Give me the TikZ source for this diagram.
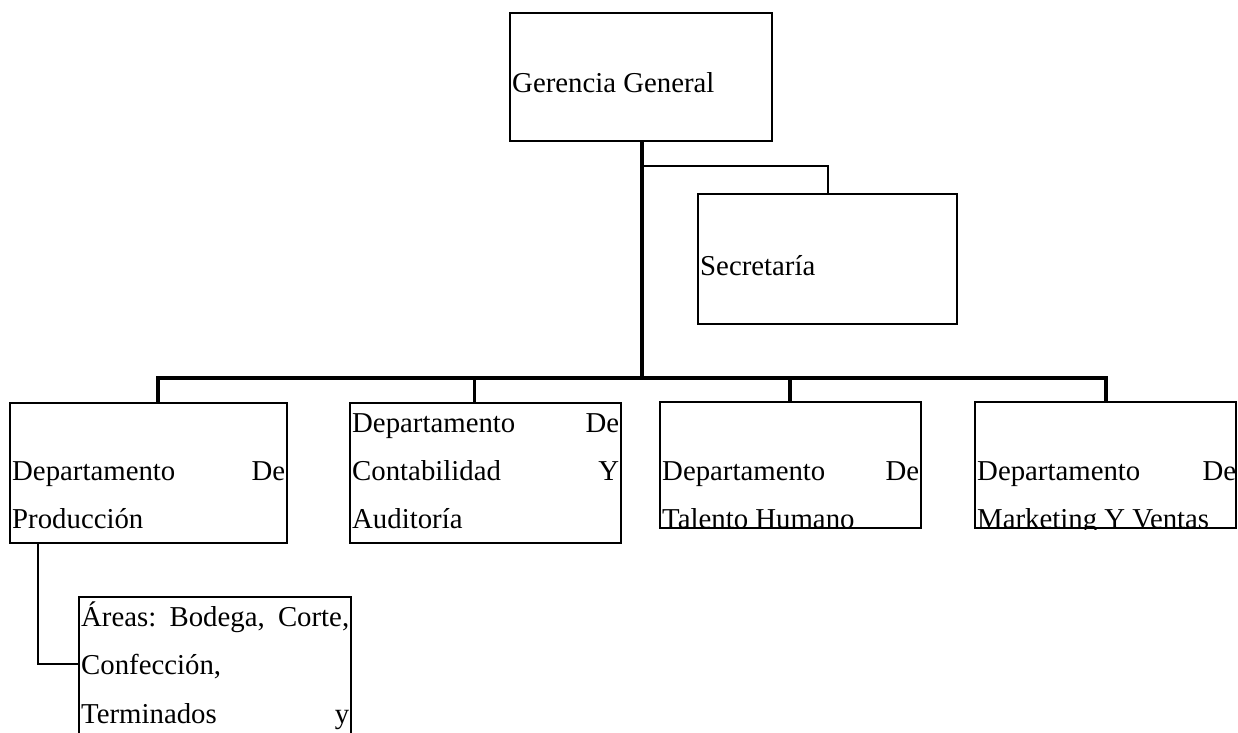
\documentclass[tikz,border=0pt]{standalone}
\usepackage{fontspec}
\setmainfont{Liberation Serif}
\usetikzlibrary{calc}
\tikzset{
  unitbox/.style={draw=black, line width=2pt, rectangle, inner sep=0pt, outer sep=0pt, anchor=north west},
  boxtext/.style={anchor=base west, inner sep=0pt, font=\fontsize{28.8}{34}\selectfont},
  trunkline/.style={line width=4pt},
  branchline/.style={line width=2pt},
}
% a justified line of fixed width
\newcommand{\jline}[2]{\hbox to #1pt{#2}}

\begin{document}
\begin{tikzpicture}[x=1pt,y=-1pt]
\useasboundingbox (0,0) rectangle (1238,732);
\fill[white] (0,0) rectangle (1238,732);
\clip (0,0) rectangle (1238,732);

% units
\node[unitbox, minimum width=262pt, minimum height=128pt] (g) at (510,13) {};
\node[unitbox, minimum width=259pt, minimum height=130pt] (s) at (698,194) {};
\node[unitbox, minimum width=277pt, minimum height=140pt] (p) at (10,403) {};
\node[unitbox, minimum width=271pt, minimum height=140pt] (c) at (350,403) {};
\node[unitbox, minimum width=261pt, minimum height=126pt] (t) at (660,402) {};
\node[unitbox, minimum width=261pt, minimum height=126pt] (m) at (975,402) {};
\node[unitbox, minimum width=272pt, minimum height=160pt] (a) at (79,597) {};

% connectors
\coordinate (hub) at (642,378);
\coordinate (sj) at (642,166);
\coordinate (bp) at (158,378);
\coordinate (dc) at (474,378);
\coordinate (dt) at (790,378);
\coordinate (bm) at (1106,378);
\draw[trunkline] (g.south -| hub) -- (hub);
\draw[branchline] (sj) -| (s.north);
\draw[trunkline] (bp |- p.north) -- (bp) -- (bm) -- (bm |- m.north);
\draw[line width=3pt] (dc) -- (dc |- c.north);
\draw[trunkline] (dt) -- (dt |- t.north);
\draw[branchline] ($(p.south west)+(28,0)$) |- ($(a.north west)+(0,67)$);

% texts
\node[boxtext] (gt) at (512,92) {Gerencia General};
\node[boxtext] (st) at (700,275) {Secretaría};

\node[boxtext] (p1) at (12,480) {\jline{273}{Departamento\hfill De}};
\node[boxtext] (p2) at (12,528) {Producción};

\node[boxtext] (c1) at (352,432) {\jline{267}{Departamento\hfill De}};
\node[boxtext] (c2) at (352,480) {\jline{267}{Contabilidad\hfill Y}};
\node[boxtext] (c3) at (352,528) {Auditoría};

\node[boxtext] (t1) at (662,480) {\jline{257}{Departamento\hfill De}};
\begin{scope}
  \clip (t.north west) rectangle ($(t.south east)+(0,1)$);
  \node[boxtext] (t2) at (662,528) {Talento Humano};
\end{scope}

\node[boxtext] (m1) at (977,480) {\jline{259}{Departamento\hfill De}};
\begin{scope}
  \clip (m.north west) rectangle ($(m.south east)+(0,1)$);
  \node[boxtext] (m2) at (977,528) {Marketing Y Ventas};
\end{scope}

\node[boxtext] (a1) at (81,626) {\jline{268}{Áreas:\hfill Bodega,\hfill Corte,}};
\node[boxtext] (a2) at (81,674.5) {Confección,};
\node[boxtext] (a3) at (81,723) {\jline{268}{Terminados\hfill y}};
\end{tikzpicture}
\end{document}
